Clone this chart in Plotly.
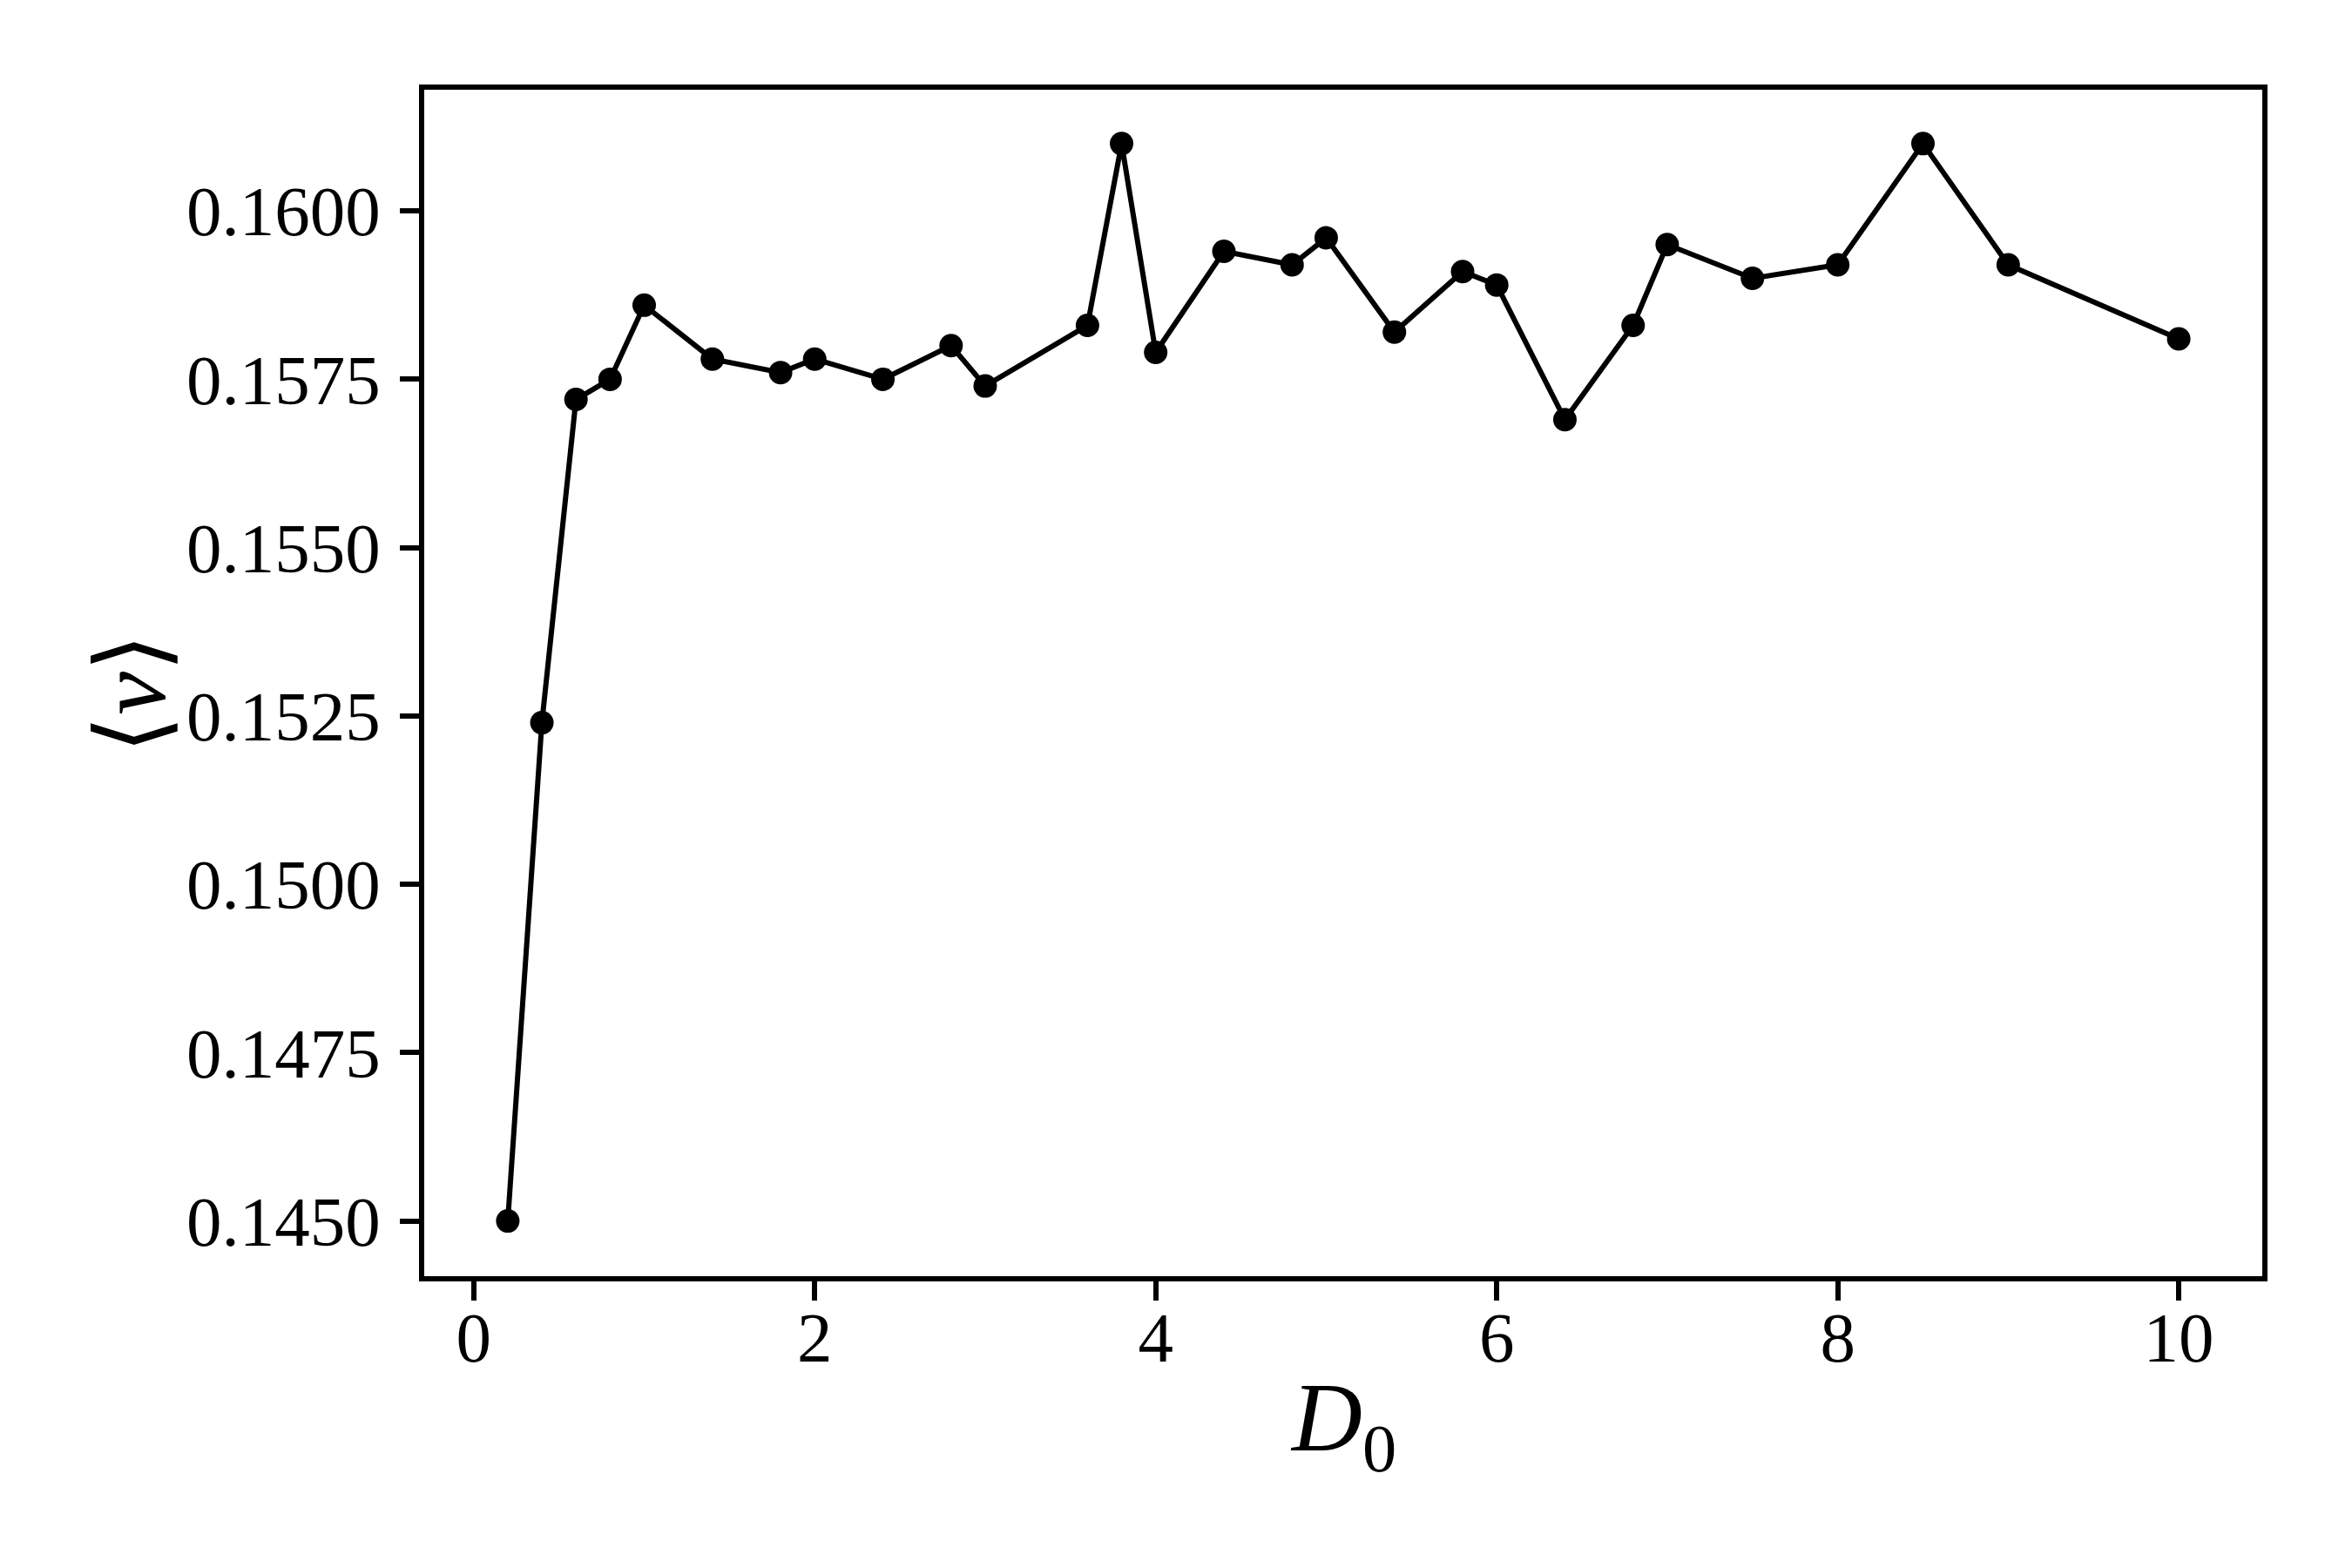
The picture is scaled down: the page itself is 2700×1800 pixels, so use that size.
import plotly.graph_objects as go

# D0 values and mean velocity
d0 = [0.2, 0.4, 0.6, 0.8, 1.0, 1.4, 1.8, 2.0, 2.4, 2.8, 3.0, 3.6, 3.8, 4.0,
      4.4, 4.8, 5.0, 5.4, 5.8, 6.0, 6.4, 6.8, 7.0, 7.5, 8.0, 8.5, 9.0, 10.0]
mean_v = [0.1450, 0.1524, 0.1572, 0.1575, 0.1586, 0.1578, 0.1576, 0.1578,
          0.1575, 0.1580, 0.1574, 0.1583, 0.1610, 0.1579, 0.1594, 0.1592,
          0.1596, 0.1582, 0.1591, 0.1589, 0.1569, 0.1583, 0.1595, 0.1590,
          0.1592, 0.1610, 0.1592, 0.1581]

x_ticks = [0, 2, 4, 6, 8, 10]
y_ticks = [0.1450, 0.1475, 0.1500, 0.1525, 0.1550, 0.1575, 0.1600]
y_ticklabels = ["0.1450", "0.1475", "0.1500", "0.1525", "0.1550", "0.1575", "0.1600"]

FONT = "Liberation Serif"

fig = go.Figure()

fig.add_trace(go.Scatter(
    x=d0,
    y=mean_v,
    mode="lines+markers",
    line=dict(color="black", width=6),
    marker=dict(color="black", size=27),
    showlegend=False,
))

axis_common = dict(
    showline=True,
    mirror=True,
    linecolor="black",
    linewidth=6,
    ticks="outside",
    ticklen=22,
    tickwidth=6,
    tickcolor="black",
    showgrid=False,
    zeroline=False,
    tickfont=dict(family=FONT, size=81, color="black"),
)

fig.update_layout(
    width=2700,
    height=1800,
    margin=dict(l=479, r=111, t=95, b=343),
    paper_bgcolor="white",
    plot_bgcolor="white",
    xaxis=dict(range=[-0.29, 10.49], tickvals=x_ticks, ticklabelstandoff=-27,
               **axis_common),
    yaxis=dict(range=[0.14418, 0.16180], tickvals=y_ticks, ticktext=y_ticklabels,
               ticklabelstandoff=6, **axis_common),
    annotations=[
        dict(text="<i>D</i><sub>0</sub>", xref="paper", yref="paper",
             x=0.5, y=-0.125, showarrow=False, xanchor="center", yanchor="middle",
             font=dict(family=FONT, size=112, color="black")),
        dict(text="⟨<i>v</i>⟩", xref="paper", yref="paper",
             x=-0.159, y=0.491, showarrow=False, textangle=-90,
             xanchor="center", yanchor="middle",
             font=dict(family=FONT, size=112, color="black")),
    ],
)

fig.write_html("out.html")
